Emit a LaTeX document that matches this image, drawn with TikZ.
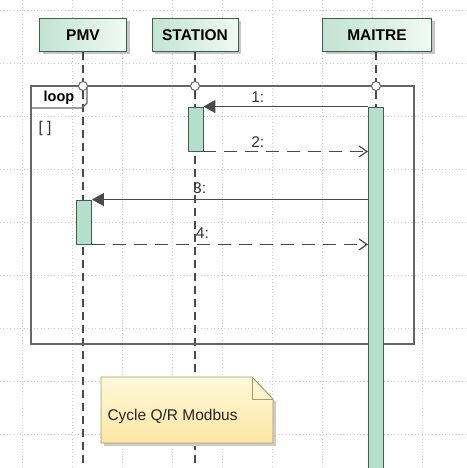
\documentclass[tikz,border=0pt]{standalone}
\usepackage{fontspec}
\setmainfont{Liberation Sans}
\usetikzlibrary{arrows.meta,calc,shadows}

\definecolor{headline}{HTML}{3F5E52}
\definecolor{headleft}{HTML}{C2E3D4}
\definecolor{headright}{HTML}{F0F9F5}
\definecolor{actfill}{HTML}{B6DFCB}
\definecolor{msgline}{HTML}{4A4A4A}
\definecolor{framegray}{HTML}{666666}
\definecolor{notetop}{HTML}{FFF8D9}
\definecolor{notebot}{HTML}{FCE6A4}
\definecolor{noteline}{HTML}{A89A6E}

\begin{document}
\begin{tikzpicture}[x=1pt, y=-1pt, >=latex,
  head/.style={draw=headline, line width=1pt, minimum height=33pt, inner sep=0pt,
    left color=headleft, right color=headright,
    font=\fontsize{15.5}{17}\selectfont\bfseries,
    drop shadow={shadow xshift=3pt, shadow yshift=-3pt, fill=gray!45, opacity=1}},
  life/.style={draw=msgline, line width=1.1pt, dash pattern=on 8pt off 5pt},
  act/.style={draw=headline, line width=0.9pt, fill=actfill, minimum width=15pt, inner sep=0pt},
  call/.style={draw=msgline, line width=1.6pt, -{Triangle[length=12pt,width=13pt]}},
  reply/.style={draw=msgline, line width=1.2pt, dash pattern=on 13pt off 8pt,
    -{Straight Barb[length=8pt,width=11pt,line width=1.2pt]}},
  lbl/.style={font=\fontsize{15.5}{17}\selectfont, text=black!80},
  port/.style={circle, draw=framegray, line width=1pt, fill=white, inner sep=0pt, minimum size=9pt}]

  % page 466 x 468 px, 1 px = 1 pt
  \useasboundingbox (0,0) rectangle (466,468);

  % Dotted background grid
  \foreach \x in {22,72,...,472} {
    \draw[gray!40, line width=0.6pt, dash pattern=on 0.8pt off 2.6pt] (\x,0) -- (\x,468);
  }
  \foreach \y in {10,63,...,468} {
    \draw[gray!40, line width=0.6pt, dash pattern=on 0.8pt off 2.6pt] (0,\y) -- (466,\y);
  }

  % Participants
  \node[head, minimum width=87pt] (pmv) at (83,35) {PMV};
  \node[head, minimum width=86pt] (station) at (195,35) {STATION};
  \node[head, minimum width=109pt] (maitre) at (377,35) {MAITRE};

  % Lifelines
  \coordinate (endP) at (83,475);
  \coordinate (endS) at (195,475);
  \coordinate (endM) at (376,475);
  \draw[life] (pmv.south) -- (endP);
  \draw[life] (station.south) -- (endS);
  \draw[life] (maitre.south -| endM) -- (endM);

  % Loop frame
  \draw[framegray, line width=1.2pt] (31,86) rectangle (414,344);
  \draw[framegray, line width=1.2pt] (31,108) -- (82,108) -- (87,103) -- (87,86);
  \node[font=\fontsize{14.5}{16}\selectfont\bfseries] (looplbl) at (59,98) {loop};
  \node[lbl] (guard) at (45,128) {[ ]};

  % Ports on the frame
  \node[port] (portP) at (83,86) {};
  \node[port] (portS) at (195,86) {};
  \node[port] (portM) at (376,86) {};

  % Activations
  \node[act, minimum height=44pt] (actS) at (195.5,129) {};
  \node[act, minimum height=44pt] (actP) at (84,222) {};
  \node[act, minimum height=370pt, anchor=north] (actM) at (376,107) {};

  % Messages
  \draw[call] (actS.north east -| actM.west) -- (actS.north east)
    node[lbl, pos=0.67, above=0pt] {1:};
  \draw[reply] (actS.south east) -- (actS.south east -| actM.west)
    node[lbl, pos=0.33, above=0pt] {2:};
  \draw[call] (actP.north east -| actM.west) -- (actP.north east)
    node[lbl, pos=0.61, above=2pt] {3:};
  \draw[reply] (actP.south east) -- (actP.south east -| actM.west)
    node[lbl, pos=0.4, above=2pt] {4:};

  % Note
  \fill[gray!40] (104,380) -- (255,380) -- (276,402) -- (276,446) -- (104,446) -- cycle;
  \shade[top color=notetop, bottom color=notebot, draw=noteline, line width=0.9pt]
    (101,377) -- (252,377) -- (273,399) -- (273,443) -- (101,443) -- cycle;
  \draw[noteline, line width=0.9pt] (252,377) -- (252,399) -- (273,399);
  \node[font=\fontsize{15.5}{17}\selectfont, anchor=west, text=black!85] (note) at (104,416) {Cycle Q/R Modbus};
\end{tikzpicture}
\end{document}
